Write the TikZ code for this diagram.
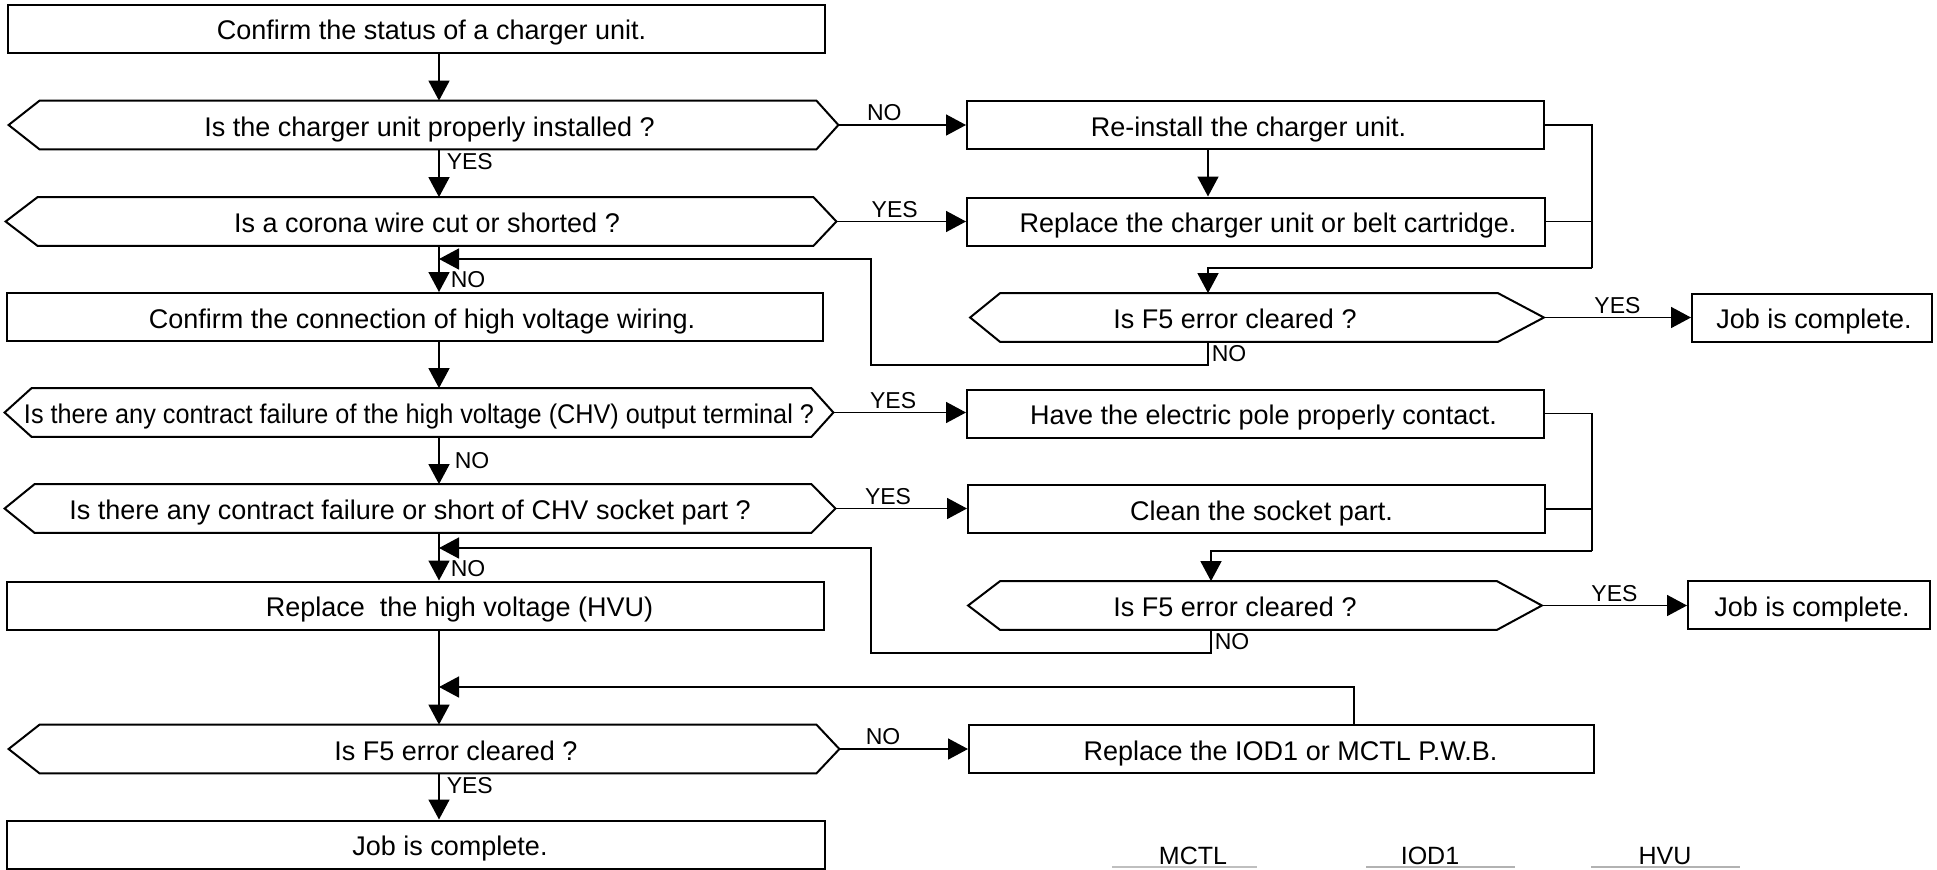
\documentclass[tikz,border=0pt]{standalone}
\usepackage{fontspec}
\setmainfont{Liberation Sans}
\usepackage{graphicx}
\usetikzlibrary{arrows.meta}

% hexagonal frame drawn round a question node: node, left cut, right cut
\newcommand\hexframe[3]{%
  \draw[line width=1pt] (#1.west) -- ([xshift=#2]#1.north west) -- ([xshift=-#3]#1.north east)
    -- (#1.east) -- ([xshift=-#3]#1.south east) -- ([xshift=#2]#1.south west) -- cycle;}

\begin{document}
\begin{tikzpicture}[x=0.5pt, y=-0.5pt,
    every node/.style={font=\fontsize{13.5}{16}\selectfont},
    stepbox/.style={draw, line width=1pt, minimum height=24pt, inner sep=0pt, text height=12pt, text depth=1pt},
    query/.style={minimum height=24pt, inner sep=0pt, text height=12pt, text depth=1pt},
    wd/.style={minimum width=0.5pt*#1},
    nudge/.style={execute at begin node={\hspace*{#1}}},
    lbl/.style={font=\fontsize{11.5}{13}\selectfont, inner sep=1.5pt},
    tag/.style={font=\fontsize{12.5}{14}\selectfont, inner sep=0pt},
    flow/.style={line width=0.8pt, -{Triangle[length=10pt, width=10.5pt]}},
    link/.style={line width=0.8pt}]
  \useasboundingbox (0,0) rectangle (1937,869);

  % main column
  \node[stepbox, wd=817, nudge=15pt]  (start)  at (416.5,28.5) {Confirm the status of a charger unit.};
  \node[query, wd=829, nudge=6pt]     (q1)     at (423.5,125)  {Is the charger unit properly installed ?};
  \node[query, wd=830, nudge=6pt]     (q2)     at (421,221.5)  {Is a corona wire cut or shorted ?};
  \node[stepbox, wd=816, nudge=7pt]   (wiring) at (415,317)    {Confirm the connection of high voltage wiring.};
  \node[query, wd=828]                (q3)     at (419,412.5)  {\scalebox{0.935}[1]{Is there any contract failure of the high voltage (CHV) output terminal ?}};
  \node[query, wd=830, nudge=-10pt]   (q4)     at (420,508.5)  {Is there any contract failure or short of CHV socket part ?};
  \node[stepbox, wd=817, nudge=44pt]  (hvu)    at (415.5,605.5) {Replace\ \ the high voltage (HVU)};
  \node[query, wd=830, nudge=32pt]    (q5)     at (424,749)    {Is F5 error cleared ?};
  \node[stepbox, wd=818, nudge=34pt]  (done)   at (416,844.5)  {Job is complete.};

  % repairs on the right
  \node[stepbox, wd=577, nudge=-7pt]  (reinstall) at (1255.5,125)   {Re-install the charger unit.};
  \node[stepbox, wd=578, nudge=12pt]  (replace)   at (1256,221.5)   {Replace the charger unit or belt cartridge.};
  \node[query, wd=573, nudge=-22pt]   (check1)    at (1257,317.5)   {Is F5 error cleared ?};
  \node[stepbox, wd=240, nudge=2pt]   (job1)      at (1812,317.5)   {Job is complete.};
  \node[stepbox, wd=577, nudge=8pt]   (contact)   at (1255.5,413.5) {Have the electric pole properly contact.};
  \node[stepbox, wd=577, nudge=5pt]   (clean)     at (1256.5,509)   {Clean the socket part.};
  \node[query, wd=573, nudge=-20pt]   (check2)    at (1255,605.5)   {Is F5 error cleared ?};
  \node[stepbox, wd=242, nudge=3pt]   (job2)      at (1809,605)     {Job is complete.};
  \node[stepbox, wd=625, nudge=9pt]   (pwb)       at (1281.5,749)   {Replace the IOD1 or MCTL P.W.B.};

  \hexframe{q1}{15.5pt}{11pt}
  \hexframe{q2}{16pt}{11.5pt}
  \hexframe{q3}{13.5pt}{11pt}
  \hexframe{q4}{15pt}{12pt}
  \hexframe{q5}{15.5pt}{11.5pt}
  \hexframe{check1}{15pt}{23pt}
  \hexframe{check2}{16pt}{22.5pt}

  % routing points
  \coordinate (spine)  at (439,0);
  \coordinate (feed1)  at (1208,0);
  \coordinate (feed2)  at (1211,0);
  \coordinate (lift)   at (1354,0);
  \coordinate (bus1)   at (1592,268);
  \coordinate (bus2)   at (1592,551);
  \coordinate (ret1)   at (871,365);
  \coordinate (ret2)   at (871,653);
  \coordinate (merge1) at (439,259);
  \coordinate (merge2) at (439,548);
  \coordinate (merge3) at (439,687);

  % down the main column
  \draw[flow] (start.south -| spine) -- (q1.north -| spine);
  \draw[flow] (q1.south -| spine) -- node[lbl, anchor=north west, pos=0, xshift=2pt] {YES} (q2.north -| spine);
  \draw[flow] (q2.south -| spine) -- node[lbl, anchor=south west, pos=1, xshift=4pt] {NO} (wiring.north -| spine);
  \draw[flow] (wiring.south -| spine) -- (q3.north -| spine);
  \draw[flow] (q3.south -| spine) -- node[lbl, right, xshift=6pt] {NO} (q4.north -| spine);
  \draw[flow] (q4.south -| spine) -- node[lbl, anchor=south west, pos=1, xshift=4pt] {NO} (hvu.north -| spine);
  \draw[flow] (hvu.south -| spine) -- (q5.north -| spine);
  \draw[flow] (q5.south -| spine) -- node[lbl, anchor=north west, pos=0, xshift=2pt] {YES} (done.north -| spine);

  % branches to the right
  \draw[flow] (q1.east) -- node[lbl, above, pos=0.36] {NO} (reinstall.west);
  \draw[flow] (q2.east) -- node[lbl, above, pos=0.45] {YES} (replace.west);
  \draw[flow] (q3.east) -- node[lbl, above, pos=0.45] {YES} (q3.east -| contact.west);
  \draw[flow] (q4.east) -- node[lbl, above, pos=0.4] {YES} (q4.east -| clean.west);
  \draw[flow] (q5.east) -- node[lbl, above, pos=0.34] {NO} (pwb.west);
  \draw[flow] (check1.east) -- node[lbl, above] {YES} (job1.west);
  \draw[flow] (check2.east) -- node[lbl, above] {YES} (check2.east -| job2.west);

  % first repair group
  \draw[flow] (reinstall.south -| feed1) -- (replace.north -| feed1);
  \draw[link] (reinstall.east) -| (bus1);
  \draw[link] (replace.east) -- (replace.east -| bus1);
  \draw[flow] (bus1) -| (check1.north -| feed1);
  \draw[flow] (check1.south -| feed1) node[lbl, anchor=north west] {NO} |- (ret1) |- (merge1);

  % second repair group
  \draw[link] (contact.east) -| (bus2);
  \draw[link] (clean.east) -- (clean.east -| bus2);
  \draw[flow] (bus2) -| (check2.north -| feed2);
  \draw[flow] (check2.south -| feed2) node[lbl, anchor=north west] {NO} |- (ret2) |- (merge2);

  % board replacement back to the check
  \draw[flow] (pwb.north -| lift) |- (merge3);

  % board names along the bottom
  \node[tag] (mctl) at (1193,856) {MCTL};
  \node[tag] (iod)  at (1430,856) {IOD1};
  \node[tag] (hv)   at (1665,856) {HVU};
  \draw[gray!50, line width=0.8pt] (1112,867) -- (1257,867);
  \draw[gray!60, line width=0.8pt] (1366,867) -- (1515,867);
  \draw[gray!60, line width=0.8pt] (1591,867) -- (1740,867);
\end{tikzpicture}
\end{document}
